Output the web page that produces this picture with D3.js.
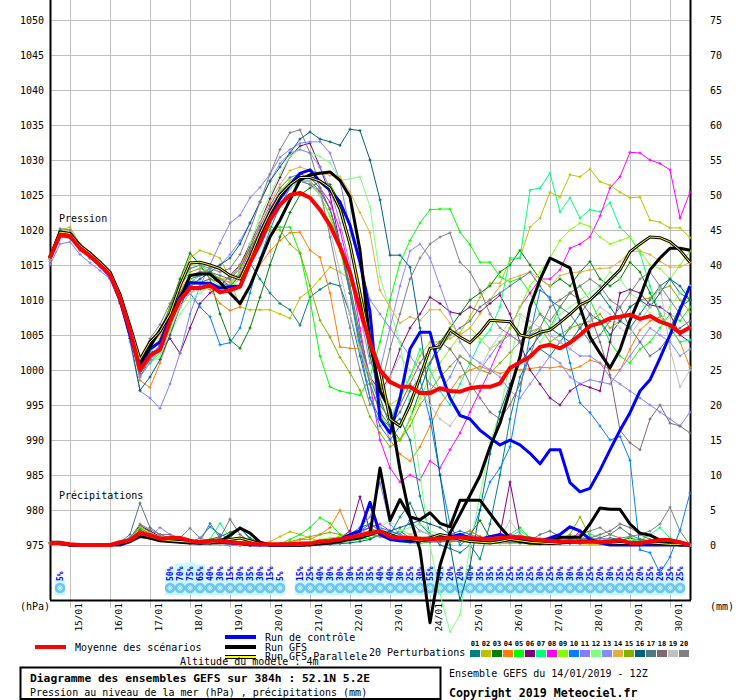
<!DOCTYPE html>
<html><head><meta charset="utf-8">
<script src="https://cdn.jsdelivr.net/npm/d3@7/dist/d3.min.js"></script>
<style>
body{margin:0;background:#fff;}
svg{display:block;}
text{font-family:"DejaVu Sans Mono","Liberation Mono",monospace;fill:#000;}
</style></head><body>
<svg id="c" width="740" height="700"></svg>
<script>
// ---------- axes / labels ----------
const hours = d3.range(0, 385, 6);            // forecast steps (0..384h, every 6h)
const dayHours = [12,36,60,84,108,132,156,180,204,228,252,276,300,324,348,372];
const dayLabels = ["15/01","16/01","17/01","18/01","19/01","20/01","21/01","22/01","23/01","24/01","25/01","26/01","27/01","28/01","29/01","30/01"];
const pressureTicks = [1050,1045,1040,1035,1030,1025,1020,1015,1010,1005,1000,995,990,985,980,975];
const mmTicks = [75,70,65,60,55,50,45,40,35,30,25,20,15,10,5,0];
const pertColors = ["#008080","#c0c000","#008000","#ff8000","#00ff00","#800080","#00ff80","#ff00ff","#80ff00","#0080ff",
                    "#8080ff","#80ff80","#8888ff","#e0b040","#80b000","#006080","#507880","#806870","#c0c0c0","#808080"];
const pertNames = ["01","02","03","04","05","06","07","08","09","10","11","12","13","14","15","16","17","18","19","20"];

// ---------- mean / control / GFS / parallel (hPa) ----------
const meanP = [1016.0,1019.3,1019.1,1017.4,1016.3,1015.0,1013.6,1010.3,1005.7,1000.0,1002.1,1002.9,1006.9,
 1010.0,1011.7,1011.7,1012.1,1011.1,1011.4,1011.9,1015.3,1018.1,1021.4,1023.6,1025.0,1025.3,
 1024.6,1022.9,1020.7,1017.6,1013.9,1008.6,1003.9,1000.0,998.3,997.6,997.6,996.7,996.7,
 997.4,997.0,996.9,997.4,997.6,997.6,998.1,1000.3,1001.1,1001.9,1003.3,1003.6,1003.1,
 1003.9,1005.0,1006.3,1006.7,1007.4,1007.6,1007.9,1007.3,1007.7,1006.9,1006.4,1005.3,1006.1];
const controlP = [1016.0,1019.5,1019.0,1017.5,1016.5,1015.0,1013.5,1010.0,1005.0,1000.5,1003.0,1004.0,1007.5,
 1010.5,1012.5,1012.4,1012.4,1011.7,1011.9,1012.0,1015.5,1019.0,1022.0,1024.5,1026.4,1028.1,
 1028.6,1026.9,1025.7,1024.0,1020.7,1015.4,1008.3,993.0,991.0,996.0,1003.0,1005.4,1005.4,
 1000.0,996.0,993.5,993.0,991.4,990.3,989.3,990.0,989.3,988.1,986.6,988.6,988.6,
 983.9,982.6,983.1,985.7,988.6,991.4,993.9,997.0,998.6,1001.7,1005.0,1008.6,1012.0];
const gfsP = [1016.0,1019.6,1019.4,1017.7,1016.6,1015.3,1013.9,1010.6,1006.0,1001.0,1003.3,1005.7,1008.0,
 1010.0,1013.5,1013.7,1013.7,1012.5,1011.0,1009.5,1012.0,1015.5,1019.0,1021.4,1024.3,1027.1,
 1027.9,1028.1,1028.3,1027.1,1024.7,1017.1,1003.9,997.0,994.3,985.7,979.0,974.3,963.9,
 972.1,976.7,979.4,982.1,984.9,989.0,992.4,997.1,1001.9,1009.0,1012.9,1016.0,1015.3,
 1014.6,1009.0,1004.7,1002.4,1000.3,1002.9,1007.1,1010.4,1014.3,1016.0,1017.4,1017.4,1017.1];
const parallelP = [1016.1,1019.7,1019.5,1017.8,1016.7,1015.4,1014.0,1010.8,1006.3,1001.5,1004.0,1005.5,1008.0,
 1012.0,1015.3,1015.4,1015.0,1014.5,1013.5,1013.0,1016.0,1019.5,1022.5,1025.0,1026.5,1027.5,
 1027.5,1027.0,1026.0,1023.0,1018.0,1011.0,1004.0,1000.0,993.0,992.0,995.0,999.0,1003.1,
 1003.3,1005.7,1004.7,1003.9,1005.3,1007.1,1007.0,1006.9,1005.0,1004.7,1005.4,1005.7,1006.8,
 1008.0,1009.3,1010.0,1011.4,1012.9,1014.3,1016.9,1018.0,1019.0,1018.9,1018.3,1017.1,1015.4];

// ---------- perturbations (hPa) ----------
const pert01 = [1016.2,1019.8,1019.5,1017.8,1016.5,1015.2,1013.4,1010.5,1005.0,999.0,1001.5,1003.0,1007.0,
 1011.0,1013.0,1013.5,1014.0,1013.0,1012.0,1013.5,1015.3,1013.0,1011.0,1009.5,1008.6,1006.4,
 1010.4,1011.5,1012.4,1012.0,1008.0,1002.0,996.0,993.0,992.0,993.0,990.0,982.0,976.5,
 975.0,974.5,973.9,975.0,973.0,978.0,985.0,993.0,999.0,1002.0,1003.0,1002.0,1004.0,
 1006.0,1008.0,1010.0,1011.0,1009.0,1007.0,1006.0,1008.0,1010.0,1012.0,1013.0,1011.0,1010.0];
const pert02 = [1015.8,1020.0,1020.4,1018.0,1016.8,1015.5,1013.8,1010.8,1006.0,1001.5,1003.5,1005.0,1009.0,
 1013.0,1016.0,1017.1,1016.6,1016.0,1013.0,1009.0,1008.6,1008.6,1008.6,1008.0,1007.4,1010.3,
 1011.4,1013.0,1014.7,1014.0,1012.9,1009.0,1003.0,998.0,995.0,996.0,999.0,1002.0,1004.0,
 1004.0,1004.5,1005.3,1007.6,1010.4,1012.4,1012.4,1015.7,1016.0,1020.4,1021.7,1025.4,1024.7,
 1027.9,1027.6,1028.7,1026.9,1026.4,1025.4,1024.6,1024.7,1021.4,1021.1,1020.3,1020.3,1018.9];
const pert03 = [1016.4,1019.9,1019.6,1017.9,1016.6,1015.3,1013.9,1010.8,1006.0,1001.0,1003.5,1005.5,1009.0,
 1013.0,1016.7,1015.0,1013.0,1008.0,1004.3,1003.1,1006.0,1010.4,1015.0,1019.0,1022.5,1025.0,
 1026.0,1027.0,1026.5,1024.0,1018.0,1010.0,1002.0,996.0,992.0,990.0,993.0,997.0,1001.0,
 1004.0,1006.0,1008.0,1010.0,1011.0,1012.0,1014.0,1015.0,1017.1,1015.0,1013.0,1012.0,1013.0,
 1012.0,1014.0,1015.5,1013.0,1012.0,1013.0,1015.4,1014.0,1011.0,1008.0,1006.0,1009.0,1010.0];
const pert04 = [1015.5,1019.0,1018.8,1017.0,1016.0,1014.8,1013.2,1010.0,1005.5,998.5,997.5,1001.0,1005.0,
 1009.0,1011.0,1012.0,1011.5,1009.5,1008.5,1009.0,1012.0,1015.0,1017.0,1018.5,1019.6,1019.7,
 1017.1,1016.1,1011.0,1003.3,1003.1,1003.0,998.0,994.0,990.0,988.0,987.0,989.0,992.0,
 995.0,997.0,999.0,1000.0,1000.5,1000.0,999.5,1000.0,1000.0,1000.2,1000.4,1000.3,1000.5,
 1000.0,1000.5,1001.4,1001.0,1000.0,1000.0,1003.0,1005.7,1007.0,1007.6,1006.0,1004.0,1000.4];
const pert05 = [1016.0,1019.4,1019.0,1017.3,1016.2,1015.0,1013.5,1010.0,1005.0,1000.0,1001.0,1002.5,1006.0,
 1010.0,1012.0,1011.5,1012.0,1011.0,1012.0,1014.0,1017.0,1019.5,1020.4,1020.4,1020.4,1016.7,
 1010.0,1002.0,997.6,997.0,996.7,996.4,999.0,1004.0,1010.0,1015.3,1018.5,1021.0,1022.9,
 1023.0,1023.0,1019.7,1017.9,1015.4,1015.4,1013.3,1012.6,1013.1,1011.0,1008.0,1006.0,1009.0,
 1011.0,1012.0,1010.0,1007.0,1004.0,1002.0,1001.0,1003.0,1004.0,1006.0,1008.0,1007.0,1009.0];
const pert06 = [1016.0,1019.5,1019.2,1017.6,1016.5,1015.2,1013.5,1009.8,1005.0,1000.5,1002.5,1003.0,1004.5,
 1002.4,1006.0,1009.5,1011.0,1012.0,1013.5,1015.0,1018.0,1021.0,1024.5,1027.5,1030.5,1032.0,
 1032.4,1029.0,1025.0,1018.0,1011.0,1004.0,999.0,997.0,999.0,1003.0,1006.0,1008.0,1010.4,
 1009.5,1008.3,1008.0,1009.0,1008.3,1009.5,1010.7,1008.0,1004.0,1000.0,998.0,996.0,995.0,
 997.0,998.0,997.5,997.0,1004.0,1011.0,1011.5,1011.0,1009.3,1009.0,1008.0,1005.0,1004.0];
const pert07 = [1016.3,1019.6,1019.3,1017.6,1016.4,1015.1,1013.8,1010.2,1005.2,999.8,1002.5,1004.0,1008.0,
 1012.0,1014.5,1015.0,1014.0,1012.5,1011.0,1012.0,1015.5,1019.0,1022.5,1025.0,1026.5,1027.0,
 1026.5,1025.0,1022.0,1018.0,1012.0,1005.0,999.0,995.0,993.0,996.0,999.0,1003.0,1000.0,
 997.0,995.0,998.0,1001.0,1004.0,1005.7,1009.0,1016.0,1016.0,1025.7,1026.0,1028.1,1022.6,
 1024.6,1021.7,1022.9,1022.6,1023.9,1020.4,1019.0,1016.7,1012.0,1008.0,1006.0,1004.0,1004.3];
const pert08 = [1016.0,1019.2,1019.0,1017.2,1016.0,1014.8,1013.0,1009.5,1004.5,999.5,1002.0,1003.5,1007.5,
 1011.0,1013.5,1014.0,1013.6,1013.0,1012.5,1014.0,1017.0,1020.0,1023.0,1025.5,1027.0,1028.0,
 1027.5,1026.0,1024.0,1020.0,1014.0,1006.0,998.0,990.0,986.0,984.0,985.0,984.3,987.0,
 986.0,988.6,991.0,994.0,997.0,1000.0,1003.3,1006.0,1009.0,1011.0,1013.0,1013.0,1014.3,
 1017.4,1018.0,1019.0,1022.0,1026.0,1027.6,1031.1,1031.0,1030.0,1029.5,1028.6,1021.7,1025.4];
const pert09 = [1016.1,1019.5,1019.3,1017.5,1016.4,1015.1,1013.6,1010.3,1005.6,1000.5,1003.0,1004.0,1007.5,
 1011.0,1013.0,1012.5,1013.0,1012.0,1012.0,1013.0,1016.5,1019.5,1022.5,1025.5,1027.0,1027.5,
 1027.0,1025.0,1022.0,1017.0,1011.0,1004.0,998.0,994.0,991.0,990.0,993.0,996.0,999.0,
 1001.0,1003.0,1005.0,1006.0,1004.5,1003.0,1004.0,1006.0,1009.0,1012.0,1014.0,1016.0,1018.5,
 1020.0,1021.0,1020.5,1019.0,1018.0,1018.5,1019.0,1017.0,1015.0,1014.5,1013.0,1015.0,1017.0];
const pert10 = [1016.2,1019.4,1019.0,1017.3,1016.1,1014.9,1013.3,1009.9,1005.3,1000.0,1002.0,1003.5,1007.5,
 1010.0,1011.0,1009.0,1007.6,1003.6,1003.9,1006.0,1011.0,1016.0,1020.0,1023.5,1026.0,1027.0,
 1027.0,1025.5,1023.0,1018.0,1011.0,1003.0,996.0,992.0,990.0,992.0,995.7,998.6,993.0,
 985.0,978.0,975.0,976.0,980.0,984.0,986.0,989.0,997.0,1005.0,1011.4,1010.4,1007.1,
 1001.0,995.3,993.9,992.0,990.0,990.5,987.1,974.3,973.9,971.0,973.3,977.1,982.4];
const pert11 = [1015.0,1018.0,1018.3,1016.5,1015.3,1014.2,1013.0,1010.5,1004.0,997.0,996.0,994.5,998.0,
 1002.4,1008.0,1012.0,1015.0,1018.1,1021.0,1022.1,1024.6,1026.1,1028.0,1030.4,1031.5,1032.4,
 1032.6,1032.6,1031.0,1027.0,1020.0,1015.0,1010.0,1008.0,1006.0,1004.0,1002.0,1000.0,998.0,
 997.0,999.0,1002.0,1001.0,1000.0,1002.0,1004.0,1005.0,1004.0,1005.0,1006.0,1005.0,1004.0,
 1003.0,1002.0,1002.0,1001.0,999.0,998.0,997.0,996.0,995.0,994.0,993.0,992.0,994.0];
const pert12 = [1016.0,1019.3,1019.0,1017.3,1016.2,1014.9,1013.4,1010.0,1005.4,1000.0,1001.0,1002.0,1005.0,
 1008.0,1010.0,1011.0,1012.0,1011.5,1012.0,1014.0,1018.0,1022.0,1025.0,1028.0,1030.5,1031.5,
 1031.0,1030.5,1029.6,1027.1,1027.3,1027.6,1023.3,1013.3,1008.6,1003.9,995.0,985.0,975.0,
 968.0,962.6,965.0,975.0,982.0,989.6,994.0,1001.0,1007.6,1006.0,1004.0,1006.0,1008.0,
 1009.0,1010.0,1011.0,1012.0,1014.0,1013.0,1011.0,1010.0,1008.0,1007.0,1009.0,1011.0,1012.0];
const pert13 = [1016.1,1019.2,1018.8,1017.1,1016.0,1014.7,1013.1,1009.6,1004.8,999.0,1001.0,1003.0,1006.5,
 1010.5,1012.5,1013.5,1014.5,1015.0,1016.5,1018.5,1021.0,1024.0,1027.0,1029.5,1031.0,1031.5,
 1031.0,1029.0,1026.0,1021.0,1015.0,1008.0,1001.0,1000.0,1006.0,1012.0,1017.0,1018.0,1016.0,
 1012.0,1008.0,1004.0,1002.0,1001.0,1000.0,999.0,997.0,996.0,998.0,1000.0,1002.0,1001.0,
 999.0,998.0,998.6,998.3,998.0,1000.0,1002.0,1004.0,1006.0,1005.0,1004.0,1002.0,1003.0];
const pert14 = [1016.0,1019.6,1019.4,1017.7,1016.5,1015.2,1013.7,1010.4,1005.8,1000.8,1003.0,1004.5,1008.0,
 1011.5,1013.5,1014.0,1014.0,1013.0,1012.5,1014.0,1017.5,1021.0,1024.0,1026.5,1028.5,1029.0,
 1028.5,1028.2,1027.8,1027.6,1025.4,1022.5,1019.6,1011.4,1009.0,1006.7,1007.6,1007.1,1008.6,
 1008.6,1006.7,1005.0,1006.0,1008.0,1010.0,1012.0,1013.0,1013.5,1014.0,1013.0,1012.0,1013.5,
 1013.9,1014.0,1014.3,1014.5,1014.6,1015.5,1016.9,1017.0,1016.5,1015.5,1014.7,1014.7,1015.4];
const pert15 = [1016.3,1019.7,1019.5,1017.8,1016.7,1015.4,1013.9,1010.6,1006.2,1001.5,1004.0,1005.5,1009.0,
 1012.0,1014.0,1014.5,1014.0,1013.0,1013.0,1015.0,1017.5,1019.6,1020.0,1020.0,1018.0,1016.7,
 1012.0,1007.1,1004.7,1001.8,999.6,997.1,993.3,991.0,989.0,990.0,992.0,995.0,997.0,
 999.0,1000.5,1002.0,1001.0,1000.0,999.5,1001.0,1002.5,1004.0,1005.5,1006.0,1004.0,1005.0,
 1006.0,1006.5,1007.0,1008.0,1006.0,1007.0,1009.0,1010.0,1010.3,1011.5,1012.0,1010.0,1008.3];
const pert16 = [1016.1,1019.5,1019.1,1017.4,1016.2,1014.9,1013.3,1009.7,1004.5,997.1,999.0,1001.5,1005.0,
 1009.0,1012.0,1013.0,1014.0,1015.0,1016.0,1018.0,1021.0,1024.0,1027.0,1029.0,1031.0,1033.0,
 1034.0,1033.0,1032.6,1032.1,1034.4,1034.2,1030.0,1024.3,1016.4,1016.4,1014.7,1006.0,995.0,
 985.0,975.0,967.1,972.0,980.0,988.0,994.0,998.0,1001.0,1003.0,1005.0,1006.0,1005.0,
 1004.0,1006.0,1008.0,1007.0,1005.0,1007.0,1009.0,1010.0,1009.0,1011.0,1013.0,1012.0,1010.0];
const pert17 = [1016.2,1019.7,1019.4,1017.7,1016.5,1015.2,1013.7,1010.3,1005.9,1001.0,1003.0,1004.0,1007.0,
 1011.0,1013.5,1014.0,1014.0,1013.5,1013.0,1014.5,1017.5,1020.5,1023.5,1026.0,1027.5,1028.0,
 1027.5,1026.0,1023.0,1018.0,1011.0,1004.0,998.0,994.0,992.0,994.0,997.0,999.0,1001.0,
 1003.0,1005.0,1006.0,1007.0,1009.0,1010.0,1011.0,1012.0,1013.0,1014.0,1012.0,1010.0,1009.0,
 1008.0,1006.0,1004.0,1005.0,1007.0,1009.0,1006.0,1004.0,1002.0,1003.0,1005.0,1006.0,1007.0];
const pert18 = [1015.9,1019.3,1019.0,1017.2,1016.0,1014.8,1013.2,1009.9,1005.1,999.5,1001.5,1003.0,1006.5,
 1010.0,1012.0,1012.5,1013.0,1012.5,1012.0,1013.5,1016.5,1019.5,1022.5,1025.0,1026.5,1027.0,
 1026.5,1025.5,1023.0,1018.0,1012.0,1005.0,999.0,995.0,993.0,995.0,998.0,1001.0,1003.0,
 1004.0,1003.0,1001.0,998.0,996.0,994.0,993.0,995.0,998.0,1002.0,1006.0,1009.0,1010.0,
 1011.0,1010.0,1008.0,1004.0,999.3,991.4,989.6,988.6,993.0,995.0,992.4,992.0,991.0];
const pert19 = [1016.0,1019.4,1019.2,1017.5,1016.3,1015.0,1013.5,1010.1,1005.4,1000.2,1002.0,1002.5,1005.5,
 1009.0,1011.0,1011.5,1012.0,1011.0,1011.5,1013.0,1016.0,1019.0,1022.0,1024.5,1026.0,1027.0,
 1027.0,1025.0,1020.0,1014.0,1008.0,1003.0,999.0,996.0,999.0,1002.0,1000.0,997.0,995.0,
 993.0,992.0,994.0,997.0,1000.0,1003.0,1005.0,1007.0,1008.0,1007.0,1006.0,1005.0,1004.0,
 1003.0,1005.0,1007.0,1009.0,1008.0,1006.0,1005.0,1007.0,1009.0,1012.0,1003.0,997.6,1000.0];
const pert20 = [1016.3,1020.2,1020.0,1018.0,1016.8,1015.4,1014.0,1010.7,1006.0,1001.0,1004.5,1006.5,1009.5,
 1012.5,1014.5,1015.0,1014.5,1014.0,1014.5,1016.5,1020.0,1024.0,1028.0,1031.5,1033.9,1034.3,
 1031.0,1026.0,1019.0,1012.0,1006.0,1000.0,995.0,997.0,1003.0,1008.0,1013.0,1016.0,1018.0,
 1019.0,1019.6,1015.4,1014.0,1011.4,1008.0,1006.0,1005.0,1004.0,1006.0,1008.0,1007.0,1009.0,
 1011.0,1012.0,1013.0,1012.0,1010.0,1009.0,1011.0,1013.0,1014.0,1012.0,1010.0,1008.0,1006.0];

// ---------- precipitation (mm / 6h) ----------
const meanR = [0.3,0.3,0.1,0,0,0,0,0.4,0.7,1.7,1.4,0.9,1.0,
 1.0,0.6,0.4,0.6,0.6,0.4,0.3,0.2,0.1,0.1,0.1,0.1,0.2,
 0.2,0.5,0.6,0.8,1.1,1.4,1.7,2.0,1.2,1.0,1.0,0.9,0.9,
 0.9,1.0,1.1,1.0,0.9,0.9,1.0,1.1,1.1,0.9,0.7,0.6,0.5,
 0.5,0.4,0.5,0.4,0.5,0.7,0.3,0.3,0.5,0.7,0.7,0.4,0];
const controlR = [0.3,0.2,0,0,0,0,0,0,0.5,1.5,1.0,0.8,0.6,
 0.5,0.4,0.3,0.5,0.4,0.3,0.2,0,0,0,0,0,0,
 0.1,0.2,0.4,0.8,1.5,2.0,6.1,1.5,0.8,0.6,0.5,0.6,0.8,
 1.0,1.2,1.5,1.0,0.8,1.2,1.5,1.0,0.8,0.6,0.5,1.0,1.5,
 2.6,2.0,0.8,0.3,0,0,0,0,0,0,0,0,0];
const gfsR = [0.4,0.4,0,0,0,0,0,0.2,0.5,1.2,1.0,0.6,0.5,
 0.4,0.3,0.3,0.4,0.5,1.4,2.4,1.7,0.4,0,0,0,0,
 0,0.2,0.3,0.5,0.8,1.0,1.5,11.0,3.5,6.5,4.0,3.6,4.6,
 3.1,2.6,6.4,6.4,6.4,4.5,2.6,1.0,0.5,0.3,0.2,0.5,1.1,
 1.1,1.1,3.0,5.3,5.1,5.1,3.0,1.7,1.4,0.7,0.3,0,0];
const parallelR = [0.3,0.2,0,0,0,0,0,0.2,0.6,1.5,1.2,0.8,0.6,
 0.5,0.4,0.3,0.3,0.5,0.8,1.0,0.6,0.2,0,0,0,0,
 0.1,0.3,0.5,0.8,1.0,1.2,1.5,2.0,1.5,1.0,0.8,0.6,1.0,
 1.5,1.2,0.8,0.5,0.4,0.3,0.5,0.8,0.6,0.4,0.3,0.2,0.3,
 0.4,0.5,0.6,0.4,0.3,0.2,0.3,0.4,0.3,0.2,0.1,0.1,0];
const rain01 = [0.3,0.2,0,0,0,0,0,0.3,1.0,2.5,2.0,1.2,0.8, 0.5,0.4,0.2,0.6,0.4,0.2,0.1,0,0,0,0,0,0.2,
 0.3,0.6,0.8,1.2,1.5,2.5,3.0,2.0,1.5,4.0,6.0,3.0,1.5, 1.0,0.8,1.5,2.0,1.2,0.6,0.8,1.0,0.5,0.4,0.3,0.2,0.5,
 0.8,0.4,0.3,0.6,1.0,0.8,0.4,0.3,0.2,0.5,0.3,0.2,0];
const rain02 = [0.2,0.2,0,0,0,0,0,0.2,0.6,1.5,1.0,0.8,0.6, 0.8,0.5,0.3,0.2,0.1,0,0,0,0,0.5,1.2,1.9,1.5,
 1.0,0.5,0.3,0.8,1.2,1.8,2.0,1.5,1.0,0.8,0.5,0.8,1.0, 0.6,0.4,0.6,0.8,0.5,0.3,0.2,0.2,0.3,0.1,0,0.1,0.2,
 0.3,0.2,0.1,0.1,0.2,0.3,0.2,0.1,0.2,0.3,0.2,0.1,0];
const rain03 = [0.3,0.3,0,0,0,0,0,0.3,0.8,2.0,1.5,1.0,0.7, 0.6,0.4,0.5,0.8,1.2,1.8,2.4,1.0,0.3,0,0,0,0.1,
 0.2,0.4,0.6,1.0,1.5,2.0,2.5,1.5,1.2,2.0,1.0,0.8,0.6, 0.5,0.8,1.0,1.5,3.5,1.0,0.6,0.4,0.3,0.5,0.8,0.5,0.3,
 0.2,0.3,0.5,0.4,0.3,0.6,1.0,0.5,0.3,0.2,0.1,0.2,0];
const rain04 = [0.3,0.2,0,0,0,0,0,0.2,0.7,2.2,1.8,1.0,0.6, 0.4,0.3,0.5,0.3,0.2,0.1,0,0,0,0,0,0.3,0.8,
 0.8,1.5,2.5,5.0,1.5,1.0,1.5,1.8,1.0,0.8,1.2,1.0,0.8, 0.7,0.6,1.5,2.0,1.2,0.8,1.0,0.8,0.6,0.4,0.5,0.3,0.2,
 0.3,0.2,0.4,0.6,0.8,0.5,0.3,0.2,0.4,0.6,0.5,0.2,0];
const rain05 = [0.2,0.2,0,0,0,0,0,0.3,0.9,2.4,1.5,1.0,0.8, 0.5,0.3,0.2,0.2,0.1,0,0,0,0,0,0.2,0.8,1.5,
 2.5,3.9,3.1,1.5,1.0,0.8,1.0,1.5,1.2,0.5,0.3,0.2,0.5, 0.8,1.0,0.6,0.4,0.3,0.5,0.8,1.5,2.5,1.0,0.5,0.3,0.2,
 0.3,0.5,0.4,0.3,0.2,0.6,1.2,0.5,0.3,0.2,0.4,0.3,0];
const rain06 = [0.3,0.2,0,0,0,0,0,0.4,1.0,2.8,2.0,1.2,0.9, 0.8,0.5,0.3,0.4,0.3,0.2,0.1,0,0,0,0,0,0,
 0.1,0.3,0.6,1.0,2.0,6.9,2.0,1.5,1.0,0.8,0.6,0.5,0.8, 1.0,0.6,0.5,0.8,1.0,1.2,1.5,9.0,1.5,0.8,0.5,0.3,0.4,
 0.6,0.8,0.5,0.3,0.2,0.5,0.4,0.3,0.2,0.3,0.4,0.2,0];
const rain07 = [0.3,0.3,0,0,0,0,0,0.3,0.8,2.0,1.6,1.2,0.8, 0.6,0.4,0.5,0.8,3.1,1.0,0.3,0.1,0,0,0,0,0.1,
 0.2,0.3,0.5,0.8,1.2,1.5,2.0,2.5,1.5,1.0,0.8,1.0,1.2, 1.5,1.0,0.8,0.6,0.5,0.4,0.8,1.2,2.0,1.0,0.5,0.3,0.6,
 1.0,0.8,1.6,1.0,0.5,0.3,0.4,0.6,1.5,2.5,1.0,0.3,0];
const rain08 = [0.2,0.2,0,0,0,0,0,0.2,0.7,1.8,1.4,1.0,0.6, 0.4,0.3,0.2,0.2,0.1,0,0,0,0,0,0,0,0,
 0.1,0.2,0.4,0.8,1.2,1.8,2.5,3.0,2.0,1.5,1.0,0.8,1.0, 1.2,1.0,0.8,0.6,0.5,0.8,1.0,1.5,1.2,0.8,0.6,0.4,0.5,
 0.6,2.0,0.8,0.4,0.3,0.2,0.3,0.4,0.3,0.2,0.1,0.1,0];
const rain09 = [0.3,0.2,0,0,0,0,0,0.3,0.9,2.6,1.7,1.1,0.8, 0.6,0.4,0.3,0.3,0.2,0.1,0,0,0,0,0,0.1,0.3,
 0.5,0.8,1.0,1.2,1.5,2.0,1.8,1.5,1.2,2.2,1.5,1.0,0.8, 0.6,0.5,0.8,1.0,0.8,0.6,0.5,0.4,0.6,0.8,1.0,0.6,0.4,
 0.3,0.4,0.6,0.8,0.5,0.3,0.5,0.8,1.5,0.6,0.3,0.2,0];
const rain10 = [0.3,0.2,0,0,0,0,0,0.3,0.8,1.9,1.5,1.0,0.7, 0.5,0.3,1.0,2.6,1.5,1.0,2.5,0.8,0.2,0,0,0,0.1,
 0.2,0.3,0.5,0.8,1.2,2.0,3.0,2.5,2.0,1.5,3.5,2.0,1.5, 1.2,1.5,2.0,1.5,1.0,0.8,0.6,0.5,0.8,1.0,0.8,0.5,0.4,
 0.5,0.8,1.0,0.6,0.4,0.3,0.5,0.8,0.6,0.4,0.3,0.2,0];
const rain11 = [0.2,0.2,0,0,0,0,0,0.2,0.6,1.6,1.2,2.5,1.5, 1.0,0.6,0.4,0.3,0.2,0.1,0,0,0,0,0,0,0,
 0.1,0.2,0.3,0.6,1.2,2.5,4.0,8.9,3.0,1.5,1.0,0.8,0.6, 0.8,1.0,0.8,0.6,0.5,0.4,0.6,0.8,1.0,0.8,0.6,0.5,0.4,
 0.3,0.5,0.8,1.0,0.8,0.6,0.4,0.3,0.2,0.3,0.2,0.1,0];
const rain12 = [0.3,0.2,0,0,0,0,0,0.3,0.8,2.2,1.6,1.1,0.8, 0.6,0.4,0.3,0.2,0.2,0.1,0,0,0,0,0,0,0,
 0,0.1,0.2,0.3,0.5,0.8,1.5,2.5,3.5,2.0,2.5,3.0,2.0, 1.5,1.2,1.0,0.8,0.6,0.5,0.8,1.0,0.8,0.6,0.5,0.4,0.3,
 0.4,0.5,0.6,0.4,0.3,0.5,0.8,0.6,0.4,0.3,0.2,0.2,0];
const rain13 = [0.2,0.2,0,0,0,0,0,0.2,0.7,2.0,1.4,1.0,0.7, 0.5,0.3,0.2,0.2,0.1,0,0,0,0,0,0,0,0,
 0.1,0.2,0.3,0.6,1.0,1.5,2.0,1.8,1.5,1.0,0.8,0.6,0.5, 0.4,0.6,0.8,1.0,0.8,0.6,0.5,0.4,0.5,0.6,0.4,0.3,0.3,
 0.2,0.3,0.4,0.5,0.4,0.3,0.2,0.3,0.4,0.3,0.2,0.1,0];
const rain14 = [0.3,0.3,0,0,0,0,0,0.3,0.9,2.3,1.7,1.2,0.9, 0.7,0.5,0.3,0.2,0.1,0,0,0,0,0,0,0,0,
 0.1,0.2,0.4,0.6,0.8,1.2,1.6,1.4,1.0,0.8,0.6,0.8,1.0, 1.2,0.8,0.6,0.5,0.4,0.5,0.6,0.8,0.6,0.5,0.4,0.3,0.2,
 0.3,0.2,0.2,0.3,0.4,0.3,0.2,0.2,0.3,0.2,0.2,0.1,0];
const rain15 = [0.3,0.2,0,0,0,0,0,0.3,0.9,2.4,1.6,1.1,0.8, 0.6,0.4,0.3,0.3,0.2,0.1,0,0,0,0,0.2,0.5,0.8,
 1.2,1.5,1.8,1.5,1.2,1.0,1.5,1.2,1.0,0.8,0.6,0.5,0.6, 0.8,0.6,0.5,0.4,0.6,0.8,1.0,0.8,1.2,1.0,0.8,0.6,0.8,
 1.5,4.0,1.2,0.5,0.8,0.6,0.4,0.3,0.5,0.6,0.4,0.2,0];
const rain16 = [0.3,0.2,0,0,0,0,0,0.3,0.8,2.1,1.5,1.0,0.8, 0.5,0.3,0.2,0.2,0.1,0,0,0,0,0,0,0,0,
 0,0,0.1,0.2,0.3,0.5,0.8,1.5,2.0,2.5,3.0,3.5,3.0, 2.5,1.5,1.0,0.8,0.6,0.5,0.8,1.0,0.8,0.6,0.5,0.4,0.3,
 0.4,0.3,0.5,0.6,0.4,0.3,0.2,0.3,0.4,0.3,0.2,0.2,0];
const rain17 = [0.3,0.2,0,0,0,0,0,0.4,1.5,6.0,2.5,1.5,1.0, 0.8,0.6,0.5,3.1,1.0,0.5,0.3,0.1,0,0,0,0,0,
 0.1,0.2,0.4,0.6,1.0,1.5,2.0,1.8,1.5,1.2,1.0,0.8,0.6, 0.8,1.0,0.8,0.6,0.5,0.6,0.8,1.0,0.8,0.6,1.5,2.0,1.2,
 0.8,0.6,0.5,1.0,1.5,2.5,1.5,0.8,0.5,0.3,0.2,0.1,0];
const rain18 = [0.2,0.2,0,0,0,0,0,0.3,0.8,2.0,1.5,1.0,0.7, 0.5,0.4,0.3,0.5,1.0,3.7,1.5,0.5,0.1,0,0,0,0,
 0.1,0.2,0.3,0.5,0.8,1.2,1.5,1.2,1.0,0.8,0.6,0.5,0.4, 0.5,0.6,0.8,1.0,0.8,0.6,0.5,0.4,0.6,0.8,0.6,0.5,0.4,
 0.6,0.8,1.0,1.5,2.0,3.0,2.5,1.5,0.8,0.5,0.3,0.2,0];
const rain19 = [0.2,0.2,0,0,0,0,0,0.2,0.7,1.8,1.3,1.0,0.7, 0.5,0.3,0.2,0.2,0.1,0,0,0,0,0,0,0,0,
 0.1,0.2,0.3,0.5,0.8,1.0,1.5,1.2,1.0,0.8,1.5,2.0,1.5, 1.0,0.8,0.6,0.5,0.6,0.8,1.0,3.5,1.5,0.8,0.6,0.4,0.3,
 0.4,0.3,0.5,0.6,0.5,0.4,0.3,0.4,0.5,0.4,0.3,0.2,0];
const rain20 = [0.3,0.3,0,0,0,0,0,0.4,1.0,3.0,2.2,1.5,1.5, 1.0,2.4,1.0,0.5,0.3,0.2,0.1,0,0,0,0,0,0,
 0,0.1,0.2,0.4,0.8,1.2,1.5,1.2,1.0,0.8,0.6,0.8,1.0, 0.8,0.6,0.5,0.6,0.8,1.0,0.8,0.6,0.5,0.4,0.6,0.8,1.0,
 1.2,1.5,2.0,2.5,1.5,1.0,1.2,1.5,2.0,3.0,5.4,2.0,0];

// ---------- snow probability (%), 0 = none ----------
const snowPct = [0,5,0,0,0,0,0,0,0,0,0,0,50,70,75,65,40,30,15,30,35,30,15,5,0,
 15,25,40,30,30,30,35,35,40,40,30,25,30,55,45,20,20,40,35,35,35,25,35,25,30,25,30,30,30,25,20,30,25,25,20,25,20,25,25,0];

const pertPressure = [pert01,pert02,pert03,pert04,pert05,pert06,pert07,pert08,pert09,pert10,
                      pert11,pert12,pert13,pert14,pert15,pert16,pert17,pert18,pert19,pert20];
const pertRain = [rain01,rain02,rain03,rain04,rain05,rain06,rain07,rain08,rain09,rain10,
                  rain11,rain12,rain13,rain14,rain15,rain16,rain17,rain18,rain19,rain20];

// ---------- drawing ----------
const svg = d3.select("#c");
const x = d3.scaleLinear().domain([0,384]).range([50,690]);
const y = d3.scaleLinear().domain([975,1050]).range([545,20]);
const ymm = d3.scaleLinear().domain([0,75]).range([545,20]);

const g = svg.append("g");
// grid
g.selectAll(".hg").data(pressureTicks).join("line")
  .attr("x1",50).attr("x2",690).attr("y1",d=>Math.round(y(d))+0.5).attr("y2",d=>Math.round(y(d))+0.5)
  .attr("stroke","#c0c0c0").attr("stroke-width",1).attr("shape-rendering","crispEdges");
g.selectAll(".vg").data(dayHours).join("line")
  .attr("x1",d=>Math.round(x(d))+0.5).attr("x2",d=>Math.round(x(d))+0.5).attr("y1",0).attr("y2",608)
  .attr("stroke","#c0c0c0").attr("stroke-width",1).attr("shape-rendering","crispEdges");

// snow band
const snowG = g.append("g");
const snowData = snowPct.map((p,i)=>({p,h:hours[i]})).filter(d=>d.p>0);
snowG.selectAll("rect").data(snowData).join("rect")
  .attr("x",d=>x(d.h)-5).attr("width",10)
  .attr("y",d=>595-(14+0.25*d.p)).attr("height",d=>14+0.25*d.p)
  .attr("fill","#ccf8ff");
const flakes = snowG.selectAll(".fl").data(snowData).join("g")
  .attr("transform",d=>`translate(${x(d.h)},588)`);
flakes.append("circle").attr("r",5.3).attr("fill","#6cc6ee");
flakes.append("path").attr("d","M-3,0h6M0,-3v6M-2,-2l4,4M-2,2l4,-4")
  .attr("stroke","#c8f0ff").attr("stroke-width",1);
snowG.selectAll("text").data(snowData).join("text")
  .attr("transform",d=>`translate(${x(d.h)+3},581) rotate(-90)`)
  .attr("font-size","8px").attr("font-weight","bold").style("fill","#0000ff")
  .text(d=>d.p+"%");

// frame
g.append("line").attr("x1",50.5).attr("x2",50.5).attr("y1",0).attr("y2",600).attr("stroke","#000").attr("stroke-width",2);
g.append("line").attr("x1",690.5).attr("x2",690.5).attr("y1",0).attr("y2",600).attr("stroke","#000").attr("stroke-width",2);
g.append("line").attr("x1",50).attr("x2",691).attr("y1",600.5).attr("y2",600.5).attr("stroke","#000").attr("stroke-width",2);

// axis labels
g.selectAll(".yl").data(pressureTicks).join("text")
  .attr("x",44).attr("y",d=>y(d)+4).attr("text-anchor","end").attr("font-size","10px").text(d=>d);
g.selectAll(".ml").data(mmTicks).join("text")
  .attr("x",710).attr("y",d=>ymm(d)+4).attr("font-size","10px").text(d=>d);
g.selectAll(".dl").data(dayHours).join("text")
  .attr("transform",(d)=>`translate(${x(d)+12},603) rotate(-90)`)
  .attr("text-anchor","end").attr("font-size","9.5px").text((d,i)=>dayLabels[i]);
g.append("text").attr("x",20).attr("y",610).attr("font-size","10px").text("(hPa)");
g.append("text").attr("x",710).attr("y",610).attr("font-size","10px").text("(mm)");
g.append("text").attr("x",59).attr("y",222).attr("font-size","10px").text("Pression");
g.append("text").attr("x",59).attr("y",499).attr("font-size","10px").text("Précipitations");

// lines
const lineP = d3.line().x((d,i)=>x(hours[i])).y(d=>y(d));
const lineR = d3.line().x((d,i)=>x(hours[i])).y(d=>ymm(d));
function marks(arr, sc){
  return arr.map((d,i)=>{const px=x(hours[i]), py=sc(d); return `M${px-1.5},${py}h3M${px},${py-1.5}v3`;}).join("");
}
const pg = g.append("g");
pertPressure.forEach((arr,k)=>{
  pg.append("path").attr("d",lineP(arr)).attr("fill","none").attr("stroke",pertColors[k]).attr("stroke-width",1);
  pg.append("path").attr("d",marks(arr,y)).attr("stroke",pertColors[k]).attr("stroke-width",1);
});
pertRain.forEach((arr,k)=>{
  pg.append("path").attr("d",lineR(arr)).attr("fill","none").attr("stroke",pertColors[k]).attr("stroke-width",1);
  pg.append("path").attr("d",marks(arr,ymm)).attr("stroke",pertColors[k]).attr("stroke-width",1);
});
// control
[lineP(controlP), lineR(controlR)].forEach(d=>{
  pg.append("path").attr("d",d).attr("fill","none").attr("stroke","#0000ff").attr("stroke-width",3).attr("stroke-linejoin","round");
});
// GFS
[lineP(gfsP), lineR(gfsR)].forEach(d=>{
  pg.append("path").attr("d",d).attr("fill","none").attr("stroke","#000").attr("stroke-width",3).attr("stroke-linejoin","round");
});
// parallel
[lineP(parallelP), lineR(parallelR)].forEach(d=>{
  pg.append("path").attr("d",d).attr("fill","none").attr("stroke","#000").attr("stroke-width",3);
  pg.append("path").attr("d",d).attr("fill","none").attr("stroke","#ffff00").attr("stroke-width",1);
});
// mean
[lineP(meanP), lineR(meanR)].forEach(d=>{
  pg.append("path").attr("d",d).attr("fill","none").attr("stroke","#ff0000").attr("stroke-width",4).attr("stroke-linejoin","round");
});

// legend
const L = svg.append("g");
L.append("line").attr("x1",35).attr("x2",66).attr("y1",647).attr("y2",647).attr("stroke","#ff0000").attr("stroke-width",4);
L.append("text").attr("x",75).attr("y",651).attr("font-size","10px").text("Moyenne des scénarios");
L.append("line").attr("x1",225).attr("x2",256).attr("y1",637).attr("y2",637).attr("stroke","#0000ff").attr("stroke-width",4);
L.append("text").attr("x",265).attr("y",641).attr("font-size","10px").text("Run de contrôle");
L.append("line").attr("x1",225).attr("x2",256).attr("y1",647).attr("y2",647).attr("stroke","#000").attr("stroke-width",4);
L.append("text").attr("x",265).attr("y",651).attr("font-size","10px").text("Run GFS");
L.append("line").attr("x1",225).attr("x2",256).attr("y1",657).attr("y2",657).attr("stroke","#000").attr("stroke-width",4);
L.append("line").attr("x1",225).attr("x2",256).attr("y1",657).attr("y2",657).attr("stroke","#ffff00").attr("stroke-width",2);
L.append("text").attr("x",265).attr("y",660).attr("font-size","10px").text("Run GFS Parallele");
L.append("text").attr("x",180).attr("y",665).attr("font-size","10px").text("Altitude du modele : 4m");
L.append("text").attr("x",369).attr("y",656).attr("font-size","10px").text("20 Perturbations");
L.selectAll(".sw").data(pertColors).join("rect")
  .attr("x",(d,i)=>470+i*11).attr("y",650).attr("width",10).attr("height",7).attr("fill",d=>d);
L.selectAll(".sn").data(pertNames).join("text")
  .attr("x",(d,i)=>475+i*11).attr("y",646).attr("text-anchor","middle").attr("font-size","7px").attr("font-weight","bold").text(d=>d);

// title box
L.append("rect").attr("x",20.5).attr("y",667.5).attr("width",420).attr("height",31.5)
  .attr("fill","none").attr("stroke","#000").attr("stroke-width",2);
L.append("text").attr("x",30).attr("y",682).attr("font-size","11.3px").attr("font-weight","bold")
  .text("Diagramme des ensembles GEFS sur 384h : 52.1N 5.2E");
L.append("text").attr("x",30).attr("y",696).attr("font-size","10px")
  .text("Pression au niveau de la mer (hPa) , précipitations (mm)");
L.append("text").attr("x",449).attr("y",677).attr("font-size","10px").text("Ensemble GEFS du 14/01/2019 - 12Z");
L.append("text").attr("x",449).attr("y",697).attr("font-size","11.6px").attr("font-weight","bold").text("Copyright 2019 Meteociel.fr");
</script>
</body></html>
